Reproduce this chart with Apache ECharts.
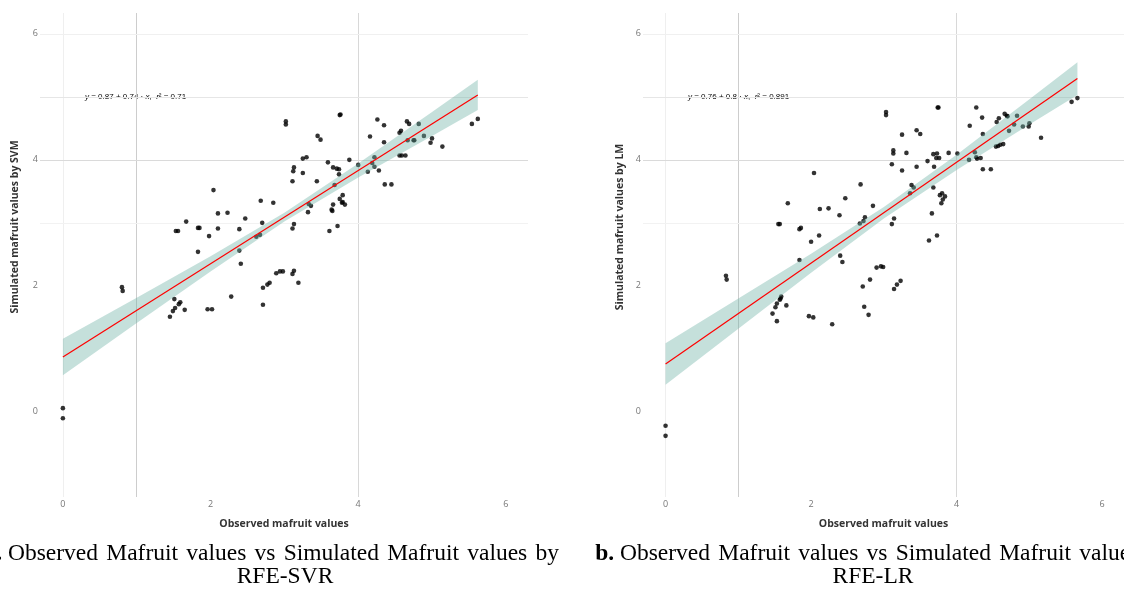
<!DOCTYPE html>
<html><head><meta charset="utf-8">
<script src="https://cdn.jsdelivr.net/npm/echarts@6/dist/echarts.min.js"></script>
<style>html,body{margin:0;padding:0;background:#fff;}#c{width:1124px;height:590px;}</style>
</head><body><div id="c"></div>
<script>
// ---- Data: panel a (RFE-SVR), observed vs simulated ----
const svmPoints = [
[0,0.06],[0,-0.1],[0.80,1.98],[0.81,1.92],
[1.45,1.51],[1.49,1.60],[1.51,1.79],[1.52,1.65],[1.57,1.71],[1.59,1.74],[1.65,1.62],
[1.53,2.87],[1.56,2.87],[1.67,3.02],[1.83,2.92],[1.85,2.92],[1.83,2.54],
[1.96,1.63],[2.02,1.63],[1.98,2.79],[2.04,3.52],[2.10,2.91],[2.10,3.15],[2.23,3.16],
[2.28,1.83],[2.39,2.90],[2.39,2.56],[2.41,2.35],[2.47,3.07],[2.62,2.78],[2.67,2.81],
[2.68,3.35],[2.85,3.32],[2.70,3.0],[2.71,1.97],[2.71,1.70],[2.77,2.02],[2.80,2.05],
[2.89,2.20],[2.94,2.23],[2.98,2.23],[3.11,2.19],[3.13,2.24],[3.19,2.05],
[3.02,4.61],[3.02,4.56],[3.11,3.66],[3.13,3.88],[3.12,3.82],[3.25,3.79],[3.13,2.98],[3.11,2.91],
[3.25,4.02],[3.30,4.04],[3.33,3.30],[3.36,3.27],[3.32,3.17],[3.44,3.66],[3.45,4.38],[3.49,4.32],
[3.59,3.96],[3.61,2.87],[3.66,3.88],[3.71,3.86],[3.74,3.85],[3.74,3.77],[3.68,3.60],
[3.66,3.29],[3.64,3.21],[3.65,3.19],[3.72,2.95],[3.75,4.71],[3.76,4.72],
[3.79,3.44],[3.75,3.38],[3.79,3.33],[3.82,3.29],[3.78,3.32],[3.88,4.0],[4.0,3.92],[4.13,3.81],
[4.16,4.37],[4.22,4.04],[4.19,3.95],[4.22,3.89],[4.28,3.83],[4.26,4.64],[4.35,4.55],[4.35,4.28],
[4.36,3.61],[4.45,3.61],[4.56,4.43],[4.58,4.46],[4.56,4.07],[4.59,4.07],[4.64,4.07],
[4.66,4.61],[4.69,4.57],[4.67,4.31],[4.75,4.31],[4.76,4.31],[4.82,4.57],[4.89,4.38],
[5.0,4.34],[4.98,4.27],[5.14,4.21],[5.54,4.57],[5.62,4.65]
];
const svmLine = [[0,0.87],[5.62,5.03]];
const svmBandX = [0,1,2,3,4,5,5.62];
const svmBandLo = [0.58,1.41,2.23,3.02,3.72,4.38,4.79];
const svmBandHi = [1.16,1.81,2.47,3.16,3.94,4.76,5.27];

// ---- Data: panel b (RFE-LR) ----
const lmPoints = [
[0,-0.22],[0,-0.38],[0.83,2.16],[0.84,2.10],
[1.47,1.56],[1.51,1.66],[1.53,1.72],[1.53,1.44],[1.57,1.78],[1.58,1.80],[1.59,1.83],[1.66,1.69],
[1.55,2.98],[1.57,2.98],[1.68,3.31],[1.84,2.90],[1.86,2.92],[1.84,2.41],
[1.97,1.52],[2.03,1.50],[2.0,2.70],[2.04,3.79],[2.11,2.80],[2.12,3.22],[2.24,3.23],
[2.29,1.39],[2.39,3.12],[2.40,2.48],[2.43,2.38],[2.47,3.39],[2.68,3.61],
[2.67,2.99],[2.72,3.03],[2.74,3.09],[2.71,1.99],[2.73,1.67],[2.79,1.54],[2.81,2.10],[2.85,3.27],
[2.90,2.29],[2.96,2.31],[2.99,2.30],[3.03,4.76],[3.03,4.71],[3.11,3.93],[3.11,2.98],[3.14,3.07],
[3.13,4.15],[3.13,4.10],[3.14,1.95],[3.18,2.02],[3.23,2.08],[3.25,4.40],[3.25,3.83],[3.31,4.11],
[3.36,3.47],[3.38,3.60],[3.41,3.56],[3.45,4.47],[3.50,4.41],[3.45,3.89],[3.60,3.98],[3.62,2.72],
[3.66,3.15],[3.68,3.56],[3.68,4.09],[3.72,4.03],[3.73,4.10],[3.76,4.03],[3.69,3.89],[3.73,2.80],
[3.74,4.83],[3.75,4.83],[3.77,3.44],[3.79,3.31],[3.80,3.47],[3.81,3.37],[3.84,3.42],[3.89,4.11],
[4.01,4.10],[4.17,4.00],[4.25,4.12],[4.27,4.04],[4.28,4.02],[4.33,4.03],[4.18,4.54],[4.27,4.83],
[4.35,4.67],[4.36,4.41],[4.36,3.85],[4.47,3.85],[4.54,4.21],[4.57,4.22],[4.60,4.24],[4.64,4.25],
[4.55,4.60],[4.58,4.66],[4.66,4.73],[4.69,4.70],[4.70,4.69],[4.72,4.46],[4.79,4.56],[4.83,4.70],
[4.91,4.53],[4.99,4.53],[5.0,4.58],[5.16,4.35],[5.58,4.92],[5.66,4.98]
];
const lmLine = [[0,0.76],[5.66,5.29]];
const lmBandX = [0,1,2,3,4,5,5.66];
const lmBandLo = [0.43,1.32,2.21,3.07,3.84,4.56,5.03];
const lmBandHi = [1.09,1.80,2.51,3.25,4.08,4.96,5.55];

const tickValues = [0,2,4,6];
const vGrid = [[0,'#efefef'],[1,'#cdcdcd'],[4,'#d8d8d8']];
const hGrid = [[6,'#f0f0f0'],[5,'#e6e6e6'],[4,'#dadada'],[3,'#f2f2f2']];

const captionA = ['Observed','Mafruit','values','vs','Simulated','Mafruit','values','by'];
const captionA2 = 'RFE-SVR';
const captionB = ['Observed','Mafruit','values','vs','Simulated','Mafruit','values','by'];
const captionB2 = 'RFE-LR';

const chart = echarts.init(document.getElementById('c'));
const FONT = '"Open Sans", "DejaVu Sans", sans-serif';
const SERIF = '"Liberation Serif", "Times New Roman", serif';
const CAP = 23.5;

function axisX(idx){
  return {type:'value', gridIndex:idx, min:-0.31, max:6.3,
    axisLine:{show:false}, axisTick:{show:false}, splitLine:{show:false},
    axisLabel:{customValues:tickValues, color:'#777', fontSize:9, margin:3, fontFamily:FONT},
    name:'Observed mafruit values', nameLocation:'middle', nameGap:22,
    nameTextStyle:{color:'#333', fontSize:10.5, fontWeight:'bold', fontFamily:FONT}};
}
function axisY(idx){
  return {type:'value', gridIndex:idx, min:-1.35, max:6.33,
    axisLine:{show:false}, axisTick:{show:false}, splitLine:{show:false},
    axisLabel:{customValues:tickValues, color:'#777', fontSize:9, margin:2, fontFamily:FONT}};
}
function bandSeries(idx, bx, lo, hi){
  return {type:'custom', xAxisIndex:idx, yAxisIndex:idx, zlevel:1, z:5, silent:true,
    data:[[bx[0],lo[0]]],
    renderItem:function(params, api){
      const pts = [];
      for(let i=0;i<bx.length;i++) pts.push(api.coord([bx[i],hi[i]]));
      for(let i=bx.length-1;i>=0;i--) pts.push(api.coord([bx[i],lo[i]]));
      return {type:'polygon', shape:{points:pts}, style:{fill:'rgba(110,178,165,0.4)'}};
    }};
}
function gridSeries(idx){
  const d = vGrid.map(g=>({xAxis:g[0], lineStyle:{color:g[1]}}))
    .concat(hGrid.map(g=>({yAxis:g[0], lineStyle:{color:g[1]}})));
  return {type:'line', xAxisIndex:idx, yAxisIndex:idx, data:[], zlevel:0, z:0, silent:true,
    markLine:{silent:true, symbol:'none', label:{show:false}, animation:false,
      lineStyle:{type:'solid', width:1}, data:d}};
}
function pointSeries(idx, pts){
  return {type:'scatter', xAxisIndex:idx, yAxisIndex:idx, data:pts, symbolSize:4.6, zlevel:1, z:3,
    itemStyle:{color:'#000'}};
}
function lineSeries(idx, pts){
  return {type:'line', xAxisIndex:idx, yAxisIndex:idx, data:pts, symbol:'none', zlevel:1, z:6,
    lineStyle:{color:'#ff0000', width:1.2}};
}

// caption first line: bold label then words spread between x0 and x1
const mctx = document.createElement('canvas').getContext('2d');
function captionLine(label, words, x0, x1, y){
  const nf = CAP + 'px ' + SERIF, bf = 'bold ' + CAP + 'px ' + SERIF;
  mctx.font = bf; const lw = mctx.measureText(label).width;
  mctx.font = nf; const sp = mctx.measureText(' ').width;
  const widths = words.map(w=>mctx.measureText(w).width);
  const total = widths.reduce((a,b)=>a+b,0);
  const gap = (x1 - x0 - total) / (words.length - 1);
  const out = [{type:'text', x:x0 - sp - lw, y:y, style:{text:label, font:bf, fill:'#000', align:'left', verticalAlign:'middle'}}];
  let x = x0;
  words.forEach((w,i)=>{
    out.push({type:'text', x:x, y:y, style:{text:w, font:nf, fill:'#000', align:'left', verticalAlign:'middle'}});
    x += widths[i] + gap;
  });
  return out;
}

const eqRich = {
  n:{fontSize:8, fontFamily:'"Liberation Sans", Arial, sans-serif', color:'#000'},
  i:{fontSize:8, fontStyle:'italic', fontFamily:'"Liberation Sans", Arial, sans-serif', color:'#000'}
};

const graphics = [
  {type:'text', left:85, top:93, style:{text:'{i|y}{n| = 0.87 + 0.74 · }{i|x}{n|,  }{i|r}{n|² = 0.71}', rich:eqRich}},
  {type:'text', left:688, top:93, style:{text:'{i|y}{n| = 0.76 + 0.8 · }{i|x}{n|,  }{i|r}{n|² = 0.891}', rich:eqRich}},
  {type:'text', x:15, y:227, rotation:Math.PI/2, style:{text:'Simulated mafruit values by SVM', fill:'#333', font:'bold 10.5px '+FONT, align:'center', verticalAlign:'middle'}},
  {type:'text', x:620, y:227, rotation:Math.PI/2, style:{text:'Simulated mafruit values by LM', fill:'#333', font:'bold 10.5px '+FONT, align:'center', verticalAlign:'middle'}},
  {type:'text', x:285, y:577, style:{text:captionA2, font:CAP+'px '+SERIF, fill:'#000', align:'center', verticalAlign:'middle'}},
  {type:'text', x:873, y:577, style:{text:captionB2, font:CAP+'px '+SERIF, fill:'#000', align:'center', verticalAlign:'middle'}}
].concat(captionLine('a.', captionA, 8, 559, 554), captionLine('b.', captionB, 620, 1171, 554));

chart.setOption({
  animation:false,
  backgroundColor:'#fff',
  grid:[{left:40, top:13, width:488, height:484},{left:643, top:13, width:488, height:484}],
  xAxis:[axisX(0), axisX(1)],
  yAxis:[axisY(0), axisY(1)],
  series:[
    gridSeries(0), pointSeries(0, svmPoints), bandSeries(0, svmBandX, svmBandLo, svmBandHi), lineSeries(0, svmLine),
    gridSeries(1), pointSeries(1, lmPoints), bandSeries(1, lmBandX, lmBandLo, lmBandHi), lineSeries(1, lmLine)
  ],
  graphic:graphics
});
</script></body></html>
